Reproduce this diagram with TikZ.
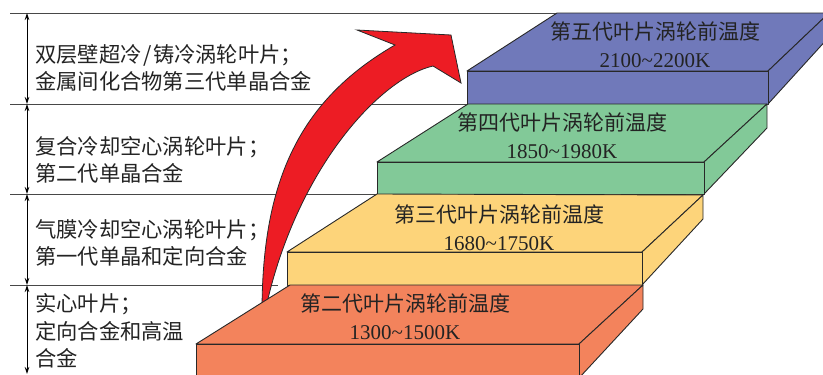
\documentclass[tikz,border=0pt]{standalone}
\usepackage{fontspec}
\setmainfont{Liberation Serif}
\newfontfamily\cjk{Noto Sans CJK SC}
\usetikzlibrary{arrows.meta}
\definecolor{boxA}{RGB}{243,131,92}
\definecolor{boxB}{RGB}{253,212,122}
\definecolor{boxC}{RGB}{130,201,152}
\definecolor{boxD}{RGB}{112,121,186}
\definecolor{arrowred}{RGB}{237,28,36}
\definecolor{lineC}{RGB}{40,40,40}
\definecolor{txt}{RGB}{35,35,35}
\tikzset{
  face/.style={draw=lineC, line width=0.9pt, line join=round},
  sepline/.style={draw=lineC!85, line width=0.9pt},
  dimarrow/.style={draw=black, line width=0.9pt, {Stealth[length=7pt,width=4.5pt]}-{Stealth[length=7pt,width=4.5pt]}},
  leftlbl/.style={anchor=west, align=left, inner sep=0pt, text=txt, font=\cjk\fontsize{21.3}{27.5}\selectfont},
  boxlbl/.style={align=center, inner sep=0pt, text=txt, font=\fontsize{21}{28}\selectfont},
  bigarrow/.style={fill=arrowred, draw=lineC, line width=0.8pt, line join=miter},
}
\begin{document}
\begin{tikzpicture}[x=1pt,y=-1pt]
\clip (0,0) rectangle (823,375);
% corners
\coordinate (Dfl) at (467,71);  \coordinate (Dfr) at (768,71);
\coordinate (Dbr) at (829,13);  \coordinate (Dbl) at (557,13);
\coordinate (Dfbl) at (467,104); \coordinate (Dfbr) at (768,104); \coordinate (Dbbr) at (829,37);
\coordinate (Cfl) at (377,162); \coordinate (Cfr) at (704,162);
\coordinate (Cbr) at (767,104); \coordinate (Cbl) at (468,104);
\coordinate (Cfbl) at (377,194); \coordinate (Cfbr) at (704,194); \coordinate (Cbbr) at (767,128);
\coordinate (Bfl) at (287,252); \coordinate (Bfr) at (642,252);
\coordinate (Bbr) at (703,195); \coordinate (Bbl) at (377,194);
\coordinate (Bfbl) at (287,285); \coordinate (Bfbr) at (642,285); \coordinate (Bbbr) at (703,219);
\coordinate (Afl) at (196,344); \coordinate (Afr) at (579,344);
\coordinate (Abr) at (643,285); \coordinate (Abl) at (290,285);
\coordinate (Afbl) at (196,378); \coordinate (Afbr) at (579,378); \coordinate (Abbr) at (643,309);
% separators
\coordinate (s1) at (10,13);  \coordinate (s2) at (10,104);
\coordinate (s3) at (10,194); \coordinate (s4) at (10,285);
\coordinate (s4e) at (278,285);
\coordinate (v1) at (27,13); \coordinate (v2) at (27,104);
\coordinate (v3) at (27,194); \coordinate (v4) at (27,285); \coordinate (v5) at (27,374);
\draw[sepline] (s1) -- (Dbl);
\draw[sepline] (s2) -- (Cbl);
\draw[sepline] (s3) -- (Bbl);
\draw[sepline] (s4) -- (s4e);
\draw[dimarrow] (v1) -- (v2);
\draw[dimarrow] (v2) -- (v3);
\draw[dimarrow] (v3) -- (v4);
\draw[dimarrow] (v4) -- (v5);
% left labels
\node[leftlbl] (L1) at (35,68) {双层壁超冷\hspace{1.5pt}/\hspace{1.5pt}铸冷涡轮叶片；\\金属间化合物第三代单晶合金};
\node[leftlbl] (L2) at (35,160) {复合冷却空心涡轮叶片；\\第二代单晶合金};
\node[leftlbl] (L3) at (35,243) {气膜冷却空心涡轮叶片；\\第一代单晶和定向合金};
\node[leftlbl] (L4) at (35,331) {实心叶片；\\定向合金和高温\\合金};
% red arrow
\draw[bigarrow] (262,312) .. controls (262,180) and (300,100) .. (395,45)
  -- (357,30) -- (451,35) -- (461,83) -- (433,66)
  .. controls (380,78) and (295,170) .. (265,312) -- cycle;
% box D (purple)
\draw[face, fill=boxD] (Dfl) -- (Dfr) -- (Dbr) -- (Dbl) -- cycle;
\draw[face, fill=boxD] (Dfr) -- (Dbr) -- (Dbbr) -- (Dfbr) -- cycle;
\draw[face, fill=boxD] (Dfl) rectangle (Dfbr);
% box C (green)
\draw[face, fill=boxC] (Cfl) -- (Cfr) -- (Cbr) -- (Cbl) -- cycle;
\draw[face, fill=boxC] (Cfr) -- (Cbr) -- (Cbbr) -- (Cfbr) -- cycle;
\draw[face, fill=boxC] (Cfl) rectangle (Cfbr);
% box B (yellow)
\draw[face, fill=boxB] (Bfl) -- (Bfr) -- (Bbr) -- (Bbl) -- cycle;
\draw[face, fill=boxB] (Bfr) -- (Bbr) -- (Bbbr) -- (Bfbr) -- cycle;
\draw[face, fill=boxB] (Bfl) rectangle (Bfbr);
% box A (orange)
\draw[face, fill=boxA] (Afl) -- (Afr) -- (Abr) -- (Abl) -- cycle;
\draw[face, fill=boxA] (Afr) -- (Abr) -- (Abbr) -- (Afbr) -- cycle;
\draw[face, fill=boxA] (Afl) rectangle (Afbr);
% box labels
\node[boxlbl] (TD) at (655,45) {{\cjk 第五代叶片涡轮前温度}\\2100\textasciitilde2200K};
\node[boxlbl] (TC) at (562,136) {{\cjk 第四代叶片涡轮前温度}\\1850\textasciitilde1980K};
\node[boxlbl] (TB) at (499,227.5) {{\cjk 第三代叶片涡轮前温度}\\1680\textasciitilde1750K};
\node[boxlbl] (TA) at (405,316.5) {{\cjk 第二代叶片涡轮前温度}\\1300\textasciitilde1500K};
\end{tikzpicture}
\end{document}
